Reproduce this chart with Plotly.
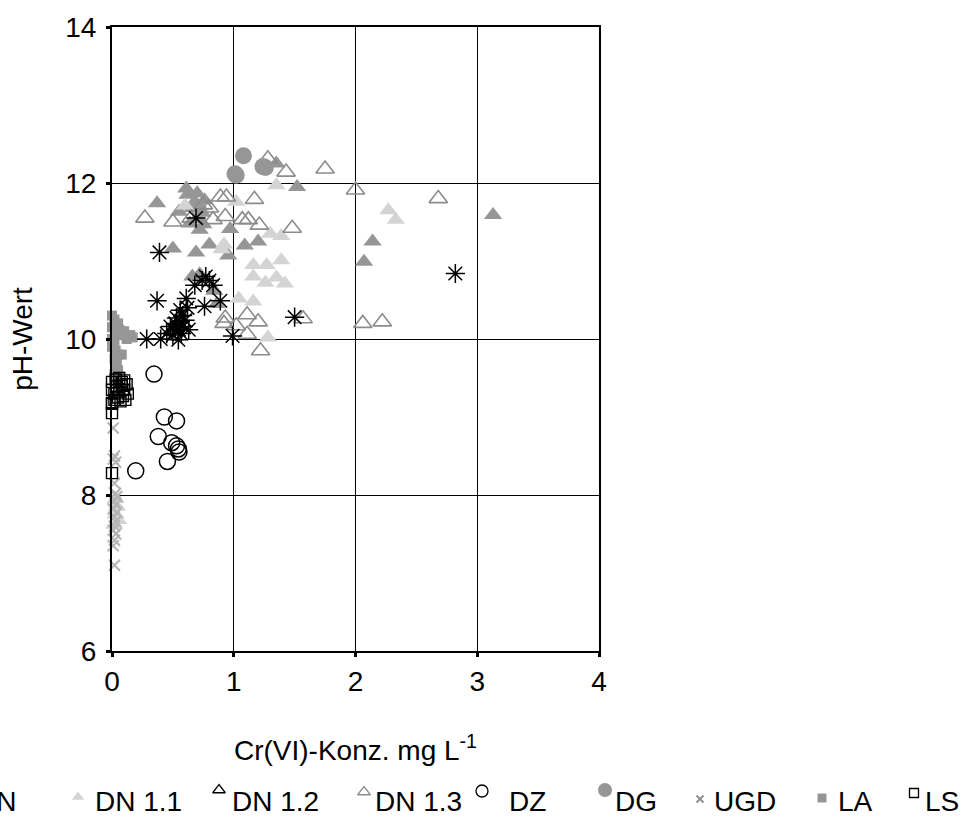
import plotly.graph_objects as go

# ---- data: Cr(VI) concentration (mg/L) vs. pH ----
ds_x = [0.69, 0.39, 0.77, 0.83, 0.68, 0.37, 0.61, 0.76, 0.89, 0.56, 0.53, 0.60, 0.48, 0.585,
        0.45, 0.57, 0.63, 0.545, 0.285, 0.40, 0.99, 1.50, 2.82, 0.52, 0.55, 0.50, 0.58, 0.62,
        0.52, 0.56, 0.74, 0.80]
ds_y = [11.55, 11.11, 10.80, 10.69, 10.69, 10.49, 10.52, 10.42, 10.49, 10.37, 10.27, 10.24, 10.16, 10.16,
        10.07, 10.07, 10.12, 9.99, 10.00, 10.00, 10.04, 10.28, 10.84, 10.20, 10.12, 10.05, 10.30, 10.40,
        10.10, 10.22, 10.75, 10.75]

dn_x = [0.37, 0.61, 0.70, 0.68, 0.55, 0.70, 0.72, 0.97, 0.50, 0.69, 0.80, 0.955, 1.09, 1.20,
        1.52, 1.35, 3.13, 2.14, 2.07, 0.66, 0.72, 0.84, 0.86, 0.62, 0.66, 0.74, 0.64, 0.75, 0.76, 0.72]
dn_y = [11.74, 11.93, 11.87, 11.76, 11.63, 11.55, 11.40, 11.41, 11.16, 11.11, 11.21, 11.07, 11.20, 11.25,
        11.95, 12.25, 11.59, 11.25, 10.99, 10.80, 10.83, 10.62, 10.45, 11.85, 11.68, 11.62, 11.48, 11.47, 11.78, 11.70]

dn11_x = [0.60, 1.02, 0.92, 1.30, 1.39, 1.16, 1.27, 1.39, 1.16, 1.26, 1.35, 1.42, 1.04, 1.16,
          1.28, 1.35, 2.27, 2.33, 0.90, 0.03, 0.04, 0.03, 0.05, 0.02]
dn11_y = [11.71, 11.76, 11.21, 11.35, 11.32, 10.95, 10.95, 11.01, 10.80, 10.72, 10.79, 10.71, 10.52, 10.48,
          10.02, 11.97, 11.65, 11.53, 11.15, 7.95, 7.85, 7.75, 7.68, 7.62]

dn12_x = []
dn12_y = []

dn13_x = [0.27, 0.50, 0.65, 0.83, 0.89, 0.94, 0.75, 0.80, 1.17, 1.07, 1.12, 1.21, 0.93, 1.48,
          1.43, 1.75, 1.28, 2.00, 2.68, 0.93, 1.11, 1.20, 1.02, 1.11, 1.57, 1.22, 2.06, 2.22, 0.92]
dn13_y = [11.55, 11.50, 11.55, 11.53, 11.82, 11.82, 11.72, 11.68, 11.79, 11.53, 11.53, 11.46, 11.57, 11.42,
          12.14, 12.18, 12.31, 11.91, 11.80, 10.27, 10.31, 10.22, 10.17, 10.06, 10.26, 9.85, 10.20, 10.22, 10.20]

dz_x = [0.345, 0.43, 0.53, 0.38, 0.49, 0.53, 0.545, 0.55, 0.455, 0.195]
dz_y = [9.55, 9.00, 8.95, 8.75, 8.67, 8.63, 8.59, 8.55, 8.43, 8.31]

dg_x = [1.08, 1.01, 1.02, 1.24, 1.26]
dg_y = [12.35, 12.12, 12.10, 12.21, 12.20]

ugd_x = [0.01, 0.02, 0.01, 0.03, 0.02, 0.03, 0.04, 0.02, 0.03, 0.01, 0.04, 0.02, 0.03, 0.02,
         0.01, 0.03, 0.02, 0.01, 0.02]
ugd_y = [8.86, 8.50, 8.46, 8.42, 8.15, 8.02, 7.98, 7.92, 7.88, 7.82, 7.78, 7.72, 7.66, 7.60,
         7.55, 7.50, 7.42, 7.35, 7.10]

la_x = [0.00, 0.02, 0.05, 0.00, 0.06, 0.10, 0.15, 0.12, 0.04, 0.02, 0.00, 0.03, 0.05, 0.02,
        0.04, 0.03, 0.05, 0.02, 0.06, 0.08, 0.00, 0.17]
la_y = [10.30, 10.25, 10.20, 10.15, 10.12, 10.10, 10.05, 10.00, 10.05, 9.95, 9.90, 9.85, 9.80, 9.75,
        9.70, 9.65, 9.60, 9.55, 9.52, 9.80, 10.00, 10.02]

ls_x = [0.00, 0.03, 0.06, 0.10, 0.12, 0.08, 0.04, 0.00, 0.02, 0.06, 0.10, 0.13, 0.09, 0.05,
        0.02, 0.07, 0.11, 0.00, 0.04, 0.08, 0.00, 0.00, 0.00]
ls_y = [9.45, 9.48, 9.50, 9.47, 9.42, 9.40, 9.38, 9.35, 9.30, 9.32, 9.35, 9.30, 9.27, 9.25,
        9.22, 9.20, 9.22, 9.17, 9.40, 9.45, 9.05, 9.18, 8.28]

x_ticks = [0, 1, 2, 3, 4]
y_ticks = [6, 8, 10, 12, 14]

FONT = "Arial, Liberation Sans, sans-serif"
DARK = "#969696"
LIGHT = "#d4d4d4"
OPEN_GRAY = "#8c8c8c"

# series styles: name, x, y, marker (plot), marker (legend key)
series = [
    ("DS", ds_x, ds_y, dict(symbol="asterisk-open", size=16, color="black", line=dict(color="black", width=1.5)),
     None),
    ("DN", dn_x, dn_y, dict(symbol="triangle-up", size=16, color=DARK, line=dict(width=0)),
     dict(symbol="triangle-up", size=11, color=DARK, line=dict(width=0))),
    ("DN 1.1", dn11_x, dn11_y, dict(symbol="triangle-up", size=16, color=LIGHT, line=dict(width=0)),
     dict(symbol="triangle-up", size=11, color=LIGHT, line=dict(width=0))),
    ("DN 1.2", dn12_x, dn12_y, dict(symbol="triangle-up-open", size=16, color="black", line=dict(width=1.5)),
     dict(symbol="triangle-up-open", size=11, color="black", line=dict(width=1.3))),
    ("DN 1.3", dn13_x, dn13_y, dict(symbol="triangle-up-open", size=16, color=OPEN_GRAY, line=dict(width=1.6)),
     dict(symbol="triangle-up-open", size=11, color=OPEN_GRAY, line=dict(width=1.3))),
    ("DZ", dz_x, dz_y, dict(symbol="circle-open", size=16, color="black", line=dict(width=1.5)),
     dict(symbol="circle-open", size=12, color="black", line=dict(width=1.3))),
    ("DG", dg_x, dg_y, dict(symbol="circle", size=17, color=DARK, line=dict(width=0)),
     dict(symbol="circle", size=14, color=DARK, line=dict(width=0))),
    ("UGD", ugd_x, ugd_y, dict(symbol="x-thin-open", size=11, color="#b4b4b4", line=dict(width=2)),
     dict(symbol="x-thin-open", size=7, color="#8c8c8c", line=dict(width=1.8))),
    ("LA", la_x, la_y, dict(symbol="square", size=10, color=DARK, line=dict(width=0)),
     dict(symbol="square", size=9, color=DARK, line=dict(width=0))),
    ("LS", ls_x, ls_y, dict(symbol="square-open", size=11, color="black", line=dict(width=1.4)),
     dict(symbol="square-open", size=9, color="black", line=dict(width=1.3))),
]

# draw order: triangles and circles first, asterisks on top
draw_order = ["DN", "DN 1.1", "DN 1.2", "DN 1.3", "DZ", "DG", "UGD", "LA", "LS", "DS"]
by_name = {s[0]: s for s in series}

fig = go.Figure()
for name in draw_order:
    _, xs, ys, mk, _ = by_name[name]
    fig.add_trace(go.Scatter(x=xs, y=ys, mode="markers", name=name, marker=mk,
                             cliponaxis=False, showlegend=False, xaxis="x", yaxis="y"))

W, H = 963, 821
x0, x1 = 112, 599
y_top, y_bot = 27, 651
LEG_H = 66

# legend row along the bottom strip (pixels): key x, text x, key y; the row is
# wider than the figure, so its first entry runs off the left edge
legend_names = ["DN", "DN 1.1", "DN 1.2", "DN 1.3", "DZ", "DG", "UGD", "LA", "LS"]
legend_key_x = [-50, 78, 219, 364, 482, 605, 700, 822, 914]
legend_text_x = [-26, 93, 230, 373, 507, 613, 712, 836, 923]
legend_key_y = [27, 24, 31, 29, 30, 31, 22, 23, 28]
LEGEND_TEXT_Y = 20

for name, kx, tx, ky in zip(legend_names, legend_key_x, legend_text_x, legend_key_y):
    lmk = by_name[name][4]
    if kx > 0:
        fig.add_trace(go.Scatter(x=[kx], y=[ky], mode="markers", marker=lmk, showlegend=False,
                                 hoverinfo="skip", xaxis="x2", yaxis="y2", cliponaxis=False))
    fig.add_annotation(x=tx / W, y=LEGEND_TEXT_Y / H, xref="paper", yref="paper", text=name,
                       showarrow=False, xanchor="left", yanchor="middle",
                       font=dict(family=FONT, size=28, color="black"))

fig.update_layout(
    width=W, height=H,
    margin=dict(l=0, r=0, t=0, b=0, autoexpand=False),
    paper_bgcolor="white", plot_bgcolor="white",
    showlegend=False,
    font=dict(family=FONT, size=28, color="black"),
    xaxis=dict(
        domain=[x0 / W, x1 / W], range=[0, 4], tickvals=x_ticks,
        showgrid=True, gridcolor="black", gridwidth=1.4,
        showline=True, linecolor="black", linewidth=2, mirror=True,
        ticks="outside", ticklen=4, tickwidth=3, tickcolor="black",
        zeroline=False, tickfont=dict(size=28), automargin=False,
        title=dict(text="Cr(VI)-Konz. mg L<sup>-1</sup>", standoff=45, font=dict(size=28)),
        anchor="y",
    ),
    yaxis=dict(
        domain=[1 - y_bot / H, 1 - y_top / H], range=[6, 14], tickvals=y_ticks,
        showgrid=True, gridcolor="black", gridwidth=1.4,
        showline=True, linecolor="black", linewidth=2, mirror=True,
        ticks="outside", ticklen=4, tickwidth=3, tickcolor="black",
        zeroline=False, tickfont=dict(size=28), automargin=False, ticklabelstandoff=4,
        title=dict(text="pH-Wert", standoff=24, font=dict(size=28)),
        anchor="x",
    ),
    xaxis2=dict(domain=[0, 1], range=[0, W], visible=False, fixedrange=True, anchor="y2", automargin=False),
    yaxis2=dict(domain=[0, LEG_H / H], range=[0, LEG_H], visible=False, fixedrange=True, anchor="x2", automargin=False),
)

fig.write_html("out.html")
